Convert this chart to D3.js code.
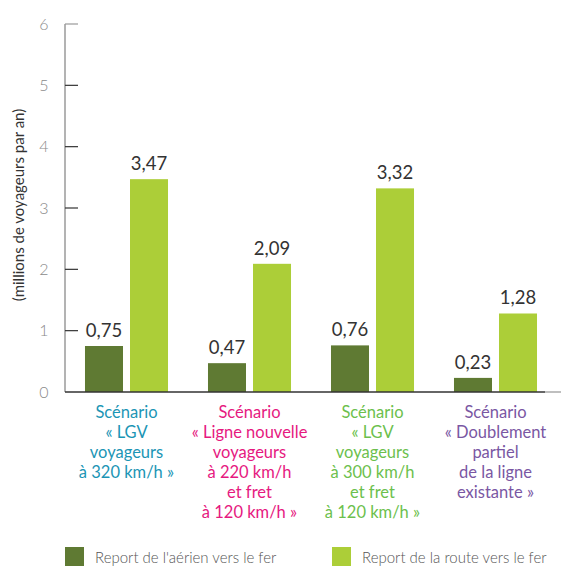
<!DOCTYPE html>
<html><head><meta charset="utf-8">
<script src="https://cdn.jsdelivr.net/npm/d3@7"></script>
<style>body{margin:0;background:#fff}svg{display:block}text{font-family:Lato,"Open Sans",sans-serif}</style>
</head><body><svg id="c" width="561" height="566"></svg>
<script>
const categories = ["S1","S2","S3","S4"];
const categoryLabels = [
  ["Scénario","« LGV","voyageurs","à 320 km/h »"],
  ["Scénario","« Ligne nouvelle","voyageurs","à 220 km/h","et fret","à 120 km/h »"],
  ["Scénario","« LGV","voyageurs","à 300 km/h","et fret","à 120 km/h »"],
  ["Scénario","« Doublement","partiel","de la ligne","existante »"]
];
const categoryColors = ["#1b95b5","#e6197f","#6cbf4d","#7a57a3"];
const series = ["Report de l'aérien vers le fer","Report de la route vers le fer"];
const seriesColors = ["#5f7a33","#acce38"];
const aerien = [0.75,0.47,0.76,0.23];
const route = [3.47,2.09,3.32,1.28];
const yTicks = [0,1,2,3,4,5,6];
const yTitle = "(millions de voyageurs par an)";

const svg = d3.select("#c");
const y = d3.scaleLinear().domain([0,6]).range([392,24]);
const x0 = d3.scaleBand().domain(categories).range([65,557]).paddingInner(0.325).paddingOuter(0.1625);
const x1 = d3.scaleBand().domain(series).range([0,x0.bandwidth()]).paddingInner(0.1556);
const fmt = v => v.toFixed(2).replace(".",",");

// y axis
const ax = svg.append("g").attr("transform","translate(65,0)");
ax.append("line").attr("x1",0).attr("x2",0).attr("y1",y(6)).attr("y2",y(0)).attr("stroke","#9a9a9a").attr("stroke-width",1.5);
ax.selectAll("line.t").data(yTicks.filter(d=>d>0)).join("line").attr("class","t")
  .attr("x1",0).attr("x2",13).attr("y1",d=>y(d)).attr("y2",d=>y(d))
  .attr("stroke",d=>d===6?"#9a9a9a":"#333").attr("stroke-width",1.2);
ax.selectAll("text").data(yTicks).join("text")
  .attr("x",-21).attr("y",d=>y(d)).attr("dy","0.35em").attr("text-anchor","middle")
  .attr("font-size",16).attr("font-weight",300).attr("fill","#8a8a8a").text(d=>d);
svg.append("text").attr("transform","translate(24,205) rotate(-90)").attr("text-anchor","middle")
  .attr("font-size",15).attr("font-weight",400).attr("fill","#333").text(yTitle);

// bars
const rows = categories.map((c,i)=>({c, vals:[aerien[i],route[i]]}));
const g = svg.selectAll("g.grp").data(rows).join("g").attr("class","grp")
  .attr("transform",d=>`translate(${x0(d.c)},0)`);
g.selectAll("rect").data(d=>d.vals.map((v,j)=>({s:series[j],v,j}))).join("rect")
  .attr("x",d=>x1(d.s)).attr("width",x1.bandwidth())
  .attr("y",d=>y(d.v)).attr("height",d=>y(0)-y(d.v)).attr("fill",d=>seriesColors[d.j]);
g.selectAll("text.v").data(d=>d.vals.map((v,j)=>({s:series[j],v,j}))).join("text").attr("class","v")
  .attr("x",d=>x1(d.s)+x1.bandwidth()/2).attr("y",d=>y(d.v)-9).attr("text-anchor","middle")
  .attr("font-size",18.5).attr("font-weight",400).attr("fill","#333").text(d=>fmt(d.v));

// baseline
svg.append("line").attr("x1",65).attr("x2",545).attr("y1",y(0)).attr("y2",y(0)).attr("stroke","#333").attr("stroke-width",1.5);
svg.append("line").attr("x1",545).attr("x2",561).attr("y1",y(0)).attr("y2",y(0)).attr("stroke","#aaa").attr("stroke-width",1.5);

// category labels
categories.forEach((c,i)=>{
  const t = svg.append("text").attr("text-anchor","middle").attr("font-size",16.5).attr("font-weight",400).attr("fill",categoryColors[i]);
  categoryLabels[i].forEach((line,k)=>{
    t.append("tspan").attr("x",x0(c)+x0.bandwidth()/2).attr("y",418+k*20).text(line);
  });
});

// legend
const lx = [65,332];
series.forEach((s,j)=>{
  svg.append("rect").attr("x",lx[j]).attr("y",547).attr("width",19).attr("height",19).attr("fill",seriesColors[j]);
  svg.append("text").attr("x",lx[j]+30).attr("y",563).attr("font-size",15).attr("font-weight",300).attr("fill","#555").text(s);
});
</script></body></html>
